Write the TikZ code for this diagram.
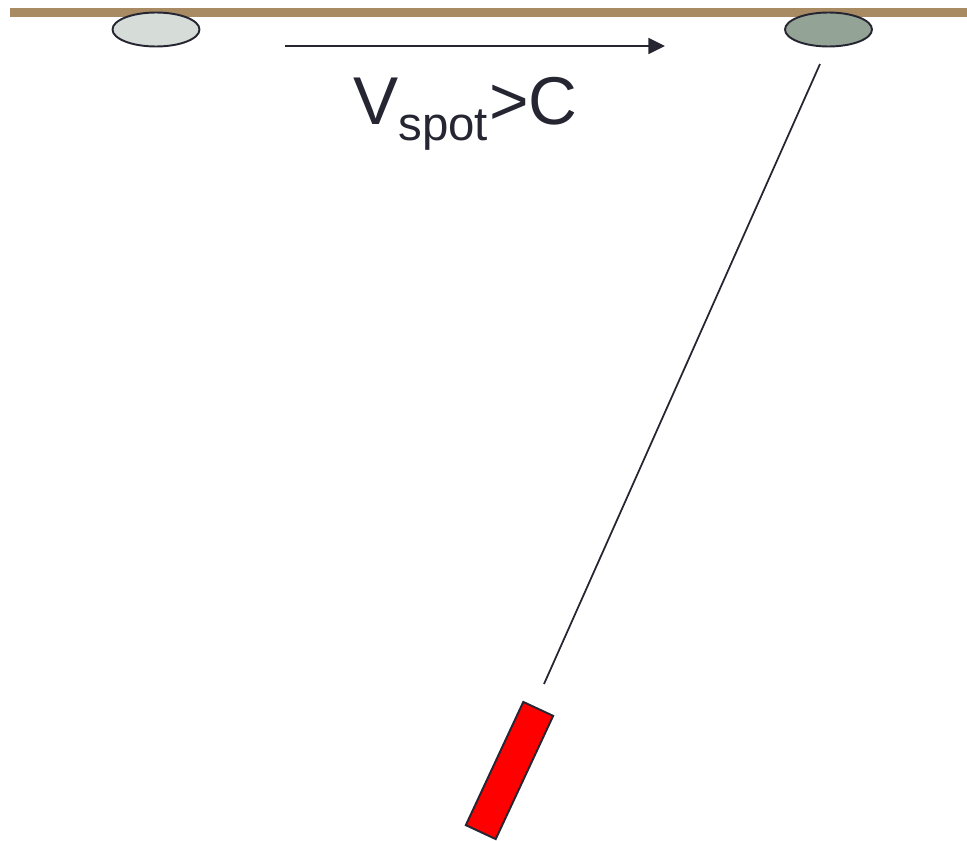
\documentclass[tikz,border=0pt]{standalone}
\usepackage{fontspec}
\setmainfont{Liberation Sans}
\usetikzlibrary{arrows.meta, shapes.geometric}

\definecolor{ground}{HTML}{A88A63}
\definecolor{ink}{HTML}{262633}
\definecolor{spotold}{HTML}{D6DDD9}
\definecolor{spotnew}{HTML}{93A396}

\tikzset{
  spot/.style={ellipse, draw=ink, line width=1.1pt, minimum width=1.74cm, minimum height=0.68cm, inner sep=0pt},
  laser/.style={rectangle, draw=ink, fill=red, line width=1.1pt, minimum width=2.72cm, minimum height=0.66cm, inner sep=0pt},
  beam/.style={ink, line width=1pt}
}

\begin{document}
\begin{tikzpicture}[x=0.02cm, y=0.02cm]
    % --- 画布 ---
    \useasboundingbox (0, 0) rectangle (967, -841);

    % --- 地面 ---
    \fill[ground] (10, -8) rectangle (967, -17);

    % --- 光斑 ---
    \node[spot, fill=spotold] (spotA) at (156, -29.5) {};
    \node[spot, fill=spotnew] (spotB) at (828.5, -29.5) {};

    % --- 速度箭头和标签 ---
    \coordinate (vstart) at (285, -46);
    \coordinate (vend) at (665, -46);
    \draw[ink, line width=1.3pt, -{Triangle[length=9.5pt, width=9pt]}] (vstart) -- (vend);
    \node[ink, anchor=base west, inner sep=0pt, font=\fontsize{38.5}{44}\selectfont] (vlabel) at (353, -125) {V\textsubscript{\fontsize{27}{30}\selectfont spot}>C};

    % --- 激光器 ---
    \node[laser, rotate=65] (laser) at (509.5, -770.5) {};
    \coordinate (beamtop) at (820, -64);
    \coordinate (beambot) at (544, -684);
    \draw[beam] (beambot) -- (beamtop);
\end{tikzpicture}
\end{document}
